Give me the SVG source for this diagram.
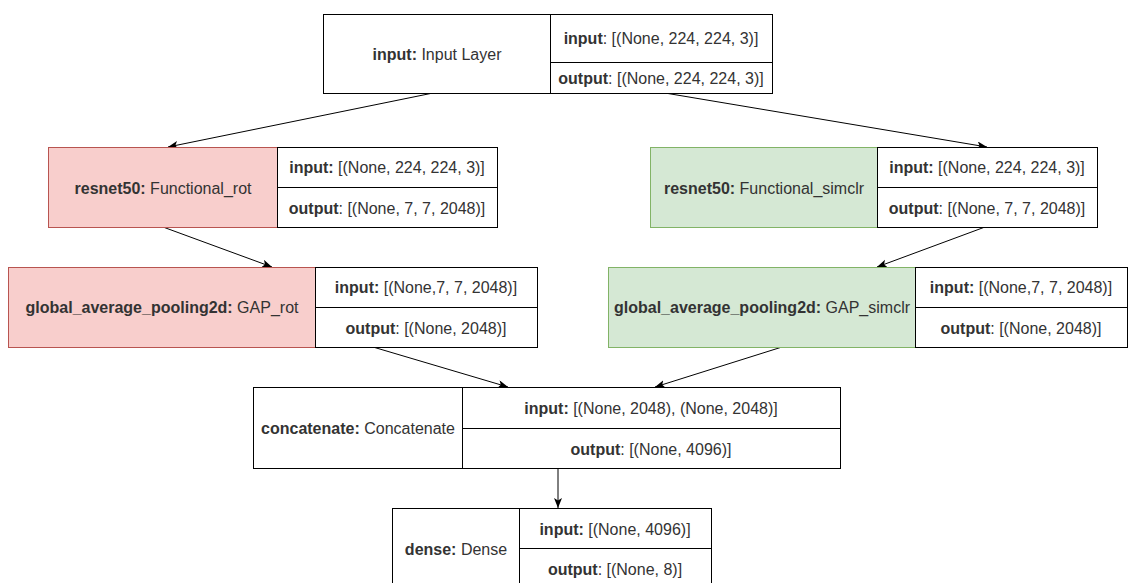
<svg xmlns="http://www.w3.org/2000/svg" width="1129" height="583" viewBox="0 0 1129 583">
<style>
text{font-family:"Liberation Sans",Arial,sans-serif;font-size:16px;fill:#333;text-anchor:middle;dominant-baseline:central}
.b{font-weight:bold}
.w{fill:#fff;stroke:#000;stroke-width:1}
.p{fill:#f8cecc;stroke:#b85450;stroke-width:1}
.g{fill:#d5e8d4;stroke:#82b366;stroke-width:1}
.l{stroke:#000;stroke-width:1}
.c{stroke:#000;stroke-width:1;fill:none;marker-end:url(#ah)}
</style>
<defs>
<marker id="ah" markerUnits="userSpaceOnUse" markerWidth="12" markerHeight="10" refX="10" refY="4" orient="auto">
<path d="M0,0 L10,4 L0,8 L2.5,4 z" fill="#000"/>
</marker>
</defs>
<g id="connectors">
<line class="c" x1="433" y1="93" x2="168" y2="147"/>
<line class="c" x1="665" y1="93" x2="987" y2="147"/>
<line class="c" x1="163" y1="227" x2="272" y2="267"/>
<line class="c" x1="985" y1="227" x2="877" y2="267"/>
<line class="c" x1="373" y1="347" x2="508" y2="387"/>
<line class="c" x1="782" y1="347" x2="655" y2="387"/>
<line class="c" x1="558" y1="468" x2="558" y2="508"/>
</g>
<g id="input">
<rect class="w" x="323.5" y="14.5" width="227" height="79"/>
<rect class="w" x="550.5" y="14.5" width="222" height="79"/>
<line class="l" x1="550.5" y1="62.5" x2="772.5" y2="62.5"/>
<text x="437" y="54"><tspan class="b">input:</tspan> Input Layer</text>
<text x="661" y="38"><tspan class="b">input</tspan>: [(None, 224, 224, 3)]</text>
<text x="661" y="78"><tspan class="b">output</tspan>: [(None, 224, 224, 3)]</text>
</g>
<g id="resnet_rot">
<rect class="p" x="48.5" y="147.5" width="229" height="80"/>
<rect class="w" x="277.5" y="147.5" width="220" height="80"/>
<line class="l" x1="277.5" y1="187.5" x2="497.5" y2="187.5"/>
<text x="163" y="188"><tspan class="b">resnet50:</tspan> Functional_rot</text>
<text x="387" y="167"><tspan class="b">input:</tspan> [(None, 224, 224, 3)]</text>
<text x="387" y="208"><tspan class="b">output</tspan>: [(None, 7, 7, 2048)]</text>
</g>
<g id="resnet_simclr">
<rect class="g" x="650.5" y="147.5" width="227" height="80"/>
<rect class="w" x="877.5" y="147.5" width="220" height="80"/>
<line class="l" x1="877.5" y1="187.5" x2="1097.5" y2="187.5"/>
<text x="764" y="188"><tspan class="b">resnet50:</tspan> Functional_simclr</text>
<text x="987" y="167"><tspan class="b">input:</tspan> [(None, 224, 224, 3)]</text>
<text x="987" y="208"><tspan class="b">output</tspan>: [(None, 7, 7, 2048)]</text>
</g>
<g id="gap_rot">
<rect class="p" x="8.5" y="267.5" width="307" height="80"/>
<rect class="w" x="315.5" y="267.5" width="222" height="80"/>
<line class="l" x1="315.5" y1="307.5" x2="537.5" y2="307.5"/>
<text x="162" y="307"><tspan class="b">global_average_pooling2d:</tspan> GAP_rot</text>
<text x="426" y="287"><tspan class="b">input:</tspan> [(None,7, 7, 2048)]</text>
<text x="426" y="328"><tspan class="b">output</tspan>: [(None, 2048)]</text>
</g>
<g id="gap_simclr">
<rect class="g" x="608.5" y="267.5" width="307" height="80"/>
<rect class="w" x="915.5" y="267.5" width="212" height="80"/>
<line class="l" x1="915.5" y1="307.5" x2="1127.5" y2="307.5"/>
<text x="762" y="307"><tspan class="b">global_average_pooling2d:</tspan> GAP_simclr</text>
<text x="1021" y="287"><tspan class="b">input:</tspan> [(None,7, 7, 2048)]</text>
<text x="1021" y="328"><tspan class="b">output</tspan>: [(None, 2048)]</text>
</g>
<g id="concatenate">
<rect class="w" x="253.5" y="387.5" width="209" height="81"/>
<rect class="w" x="462.5" y="387.5" width="378" height="81"/>
<line class="l" x1="462.5" y1="428.5" x2="840.5" y2="428.5"/>
<text x="358" y="428"><tspan class="b">concatenate:</tspan> Concatenate</text>
<text x="651" y="408"><tspan class="b">input:</tspan> [(None, 2048), (None, 2048)]</text>
<text x="651" y="449"><tspan class="b">output</tspan>: [(None, 4096)]</text>
</g>
<g id="dense">
<rect class="w" x="392.5" y="508.5" width="127" height="80"/>
<rect class="w" x="519.5" y="508.5" width="192" height="80"/>
<line class="l" x1="519.5" y1="548.5" x2="711.5" y2="548.5"/>
<text x="456" y="549"><tspan class="b">dense:</tspan> Dense</text>
<text x="615" y="529"><tspan class="b">input:</tspan> [(None, 4096)]</text>
<text x="615" y="569"><tspan class="b">output</tspan>: [(None, 8)]</text>
</g>
</svg>
